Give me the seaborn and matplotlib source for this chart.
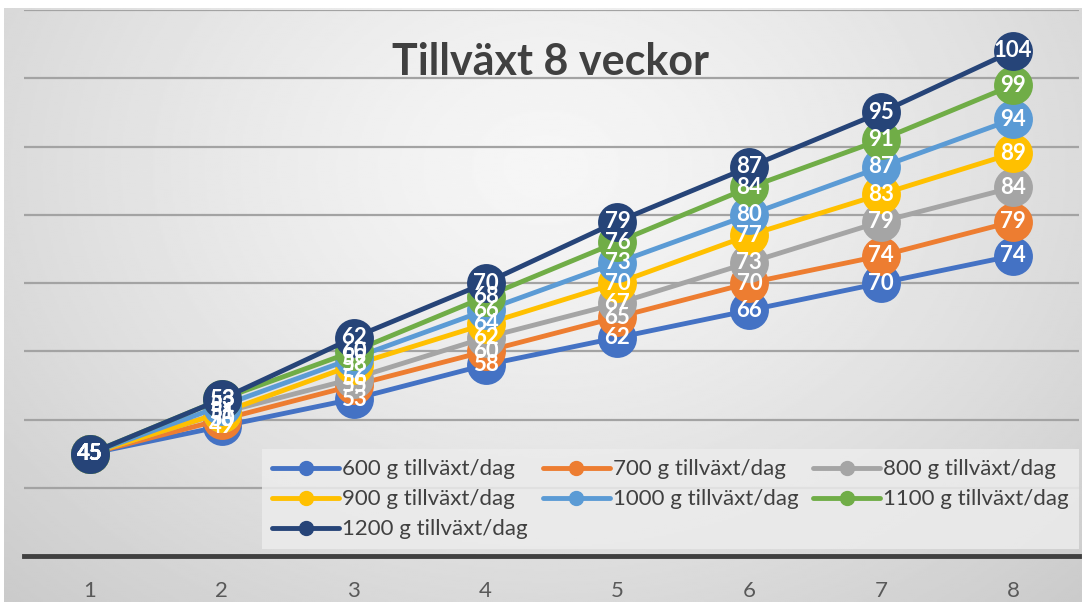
import numpy as np
import pandas as pd
import matplotlib
matplotlib.use('Agg')
import matplotlib.pyplot as plt
import seaborn as sns
from matplotlib.lines import Line2D

# weight (kg) per week for each daily growth rate
weeks = [1, 2, 3, 4, 5, 6, 7, 8]
series_names = ['600 g tillväxt/dag', '700 g tillväxt/dag', '800 g tillväxt/dag',
                '900 g tillväxt/dag', '1000 g tillväxt/dag', '1100 g tillväxt/dag',
                '1200 g tillväxt/dag']
g600 = [45, 49, 53, 58, 62, 66, 70, 74]
g700 = [45, 50, 55, 60, 65, 70, 74, 79]
g800 = [45, 51, 56, 62, 67, 73, 79, 84]
g900 = [45, 51, 58, 64, 70, 77, 83, 89]
g1000 = [45, 52, 59, 66, 73, 80, 87, 94]
g1100 = [45, 53, 60, 68, 76, 84, 91, 99]
g1200 = [45, 53, 62, 70, 79, 87, 95, 104]
colors = ['#4472C4', '#ED7D31', '#A5A5A5', '#FFC000', '#5B9BD5', '#70AD47', '#264478']

all_vals = [g600, g700, g800, g900, g1000, g1100, g1200]
rows = []
for name, vals in zip(series_names, all_vals):
    for w, v in zip(weeks, vals):
        rows.append({'vecka': w, 'vikt': v, 'serie': name})
df = pd.DataFrame(rows)

sns.set_style('white')
fam = ['Lato', 'DejaVu Sans']

fig = plt.figure(figsize=(10.82, 6.02), dpi=100)
fig.patch.set_facecolor('white')

# gray radial-ish background
bg = fig.add_axes([4 / 1082, 0, 1, 594 / 602])
bg.set_axis_off()
yy, xx = np.mgrid[0:300, 0:540]
cx, cy = 270, 80
r = np.sqrt(((xx - cx) / 420.0) ** 2 + ((yy - cy) / 330.0) ** 2)
shade = np.clip(0.965 - 0.19 * r ** 1.3, 0.77, 0.97)
bg.imshow(shade, cmap='gray', vmin=0, vmax=1, aspect='auto', interpolation='bilinear')

ax = fig.add_axes([24 / 1082, 1 - 556 / 602, 1055 / 1082, 546 / 602])
ax.patch.set_alpha(0)

for y in range(40, 120, 10):
    ax.axhline(y, color='#a3a3a3', lw=1.6, zorder=0)

palette = dict(zip(series_names, colors))
sns.lineplot(data=df, x='vecka', y='vikt', hue='serie', hue_order=series_names,
             palette=palette, marker='o', markersize=28, markeredgewidth=0,
             linewidth=3.5, legend=False, ax=ax, zorder=3)

for vals in all_vals:
    for w, v in zip(weeks, vals):
        ax.text(w, v, str(v), ha='center', va='center', color='white',
                fontsize=16, fontweight='bold', family=fam, zorder=10)

ax.set_xlim(0.5, 8.5)
ax.set_ylim(30, 110)
ax.set_yticks([])
ax.set_xticks(weeks)
ax.set_xticklabels([str(w) for w in weeks], family=fam, fontsize=16, color='#595959')
ax.tick_params(axis='x', length=0, pad=18)
ax.set_xlabel('')
ax.set_ylabel('')
for s in ['top', 'left', 'right']:
    ax.spines[s].set_visible(False)
ax.spines['bottom'].set_color('#404040')
ax.spines['bottom'].set_linewidth(3.5)

# legend filled row by row like the original
handles = [Line2D([0], [0], color=c, lw=3.5, marker='o', markersize=10) for c in colors]
order = [0, 3, 6, 1, 4, 2, 5]
leg = ax.legend([handles[i] for i in order], [series_names[i] for i in order],
                loc='lower left', ncol=3, mode='expand',
                bbox_to_anchor=(0.226, 0.012, 0.774, 0.18), frameon=True,
                prop={'family': fam, 'size': 16}, handlelength=3.0,
                handletextpad=0.15, borderaxespad=0, labelspacing=0.45,
                borderpad=0.45, fancybox=False)
leg.get_frame().set_facecolor('#ececec')
leg.get_frame().set_alpha(0.85)
leg.get_frame().set_linewidth(0)
for t in leg.get_texts():
    t.set_color('#404040')

fig.text(550 / 1082, 1 - 62 / 602, 'Tillväxt 8 veckor', ha='center', va='center',
         fontsize=31, fontweight='bold', color='#404040', family=fam)

fig.savefig('out.png', dpi=100)
